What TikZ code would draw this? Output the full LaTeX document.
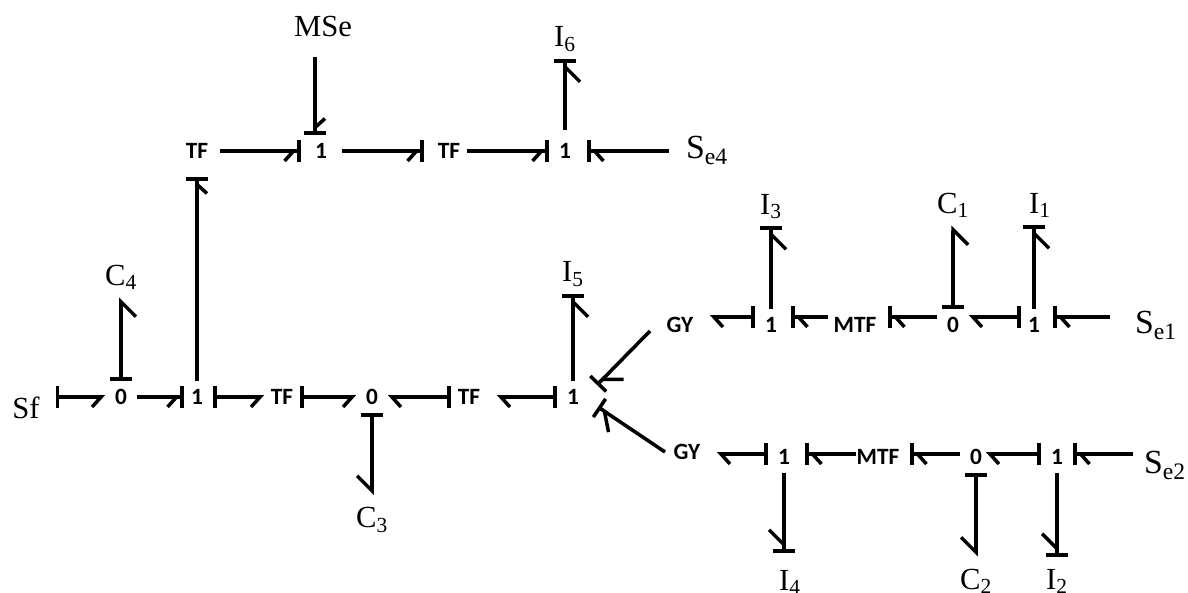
\documentclass[tikz,border=0pt]{standalone}
\usepackage{fontspec}
\setmainfont{Liberation Serif}
\newfontfamily\elemfont{Carlito}
\usetikzlibrary{arrows.meta}
\tikzset{
  hR/.tip={Straight Barb[harpoon,swap,length=.225cm,width=.5cm,sep=0pt]},
  hL/.tip={Straight Barb[harpoon,length=.225cm,width=.5cm,sep=0pt]},
  HR/.tip={Straight Barb[harpoon,swap,length=.375cm,width=.75cm,sep=0pt]},
  HL/.tip={Straight Barb[harpoon,length=.375cm,width=.75cm,sep=0pt]},
  sB/.tip={Bar[width=.55cm,sep=0pt]},
  bond/.style={line width=2.5pt},
  junc/.style={inner sep=0pt,outer sep=0pt,minimum width=.8cm,minimum height=.8cm,font=\elemfont\bfseries\fontsize{16.6}{18}\selectfont},
  tf/.style={junc,minimum width=.9cm},
  mtf/.style={junc,minimum width=1.1cm},
  gy/.style={junc,minimum width=1.5cm},
  lab/.style={inner sep=0pt,outer sep=0pt,minimum height=1cm,font=\fontsize{21.8}{24}\selectfont},
  src/.style={lab,font=\fontsize{24}{26}\selectfont}
}
\begin{document}
\begin{tikzpicture}
\useasboundingbox (0,0) rectangle (29.7,14.8);
% main row
\node[lab,inner xsep=.4cm] (sf) at (.65,4.6125) {Sf};
\node[junc] (z1) at (3.025,4.875) {0};
\node[junc] (o1) at (4.925,4.875) {1};
\node[tf] (t1) at (7.05,4.875) {TF};
\node[junc] (z2) at (9.3,4.875) {0};
\node[tf] (t2) at (11.725,4.875) {TF};
\node[junc] (o2) at (14.325,4.875) {1};
\node[lab] (c4) at (3.025,7.8625) {C\textsubscript{4}};
\node[lab,minimum height=1.25cm] (c3) at (9.3,1.8) {C\textsubscript{3}};
\node[lab] (i5) at (14.325,7.95) {I\textsubscript{5}};
% top row
\node[tf] (t3) at (4.925,11.025) {TF};
\node[junc] (o3) at (8.025,11.025) {1};
\node[tf] (t4) at (11.225,11.025) {TF};
\node[junc] (o4) at (14.125,11.025) {1};
\node[lab,minimum height=1.5cm] (mse) at (8.075,14.125) {MSe};
\node[lab] (i6) at (14.125,13.825) {I\textsubscript{6}};
\node[src,inner xsep=.425cm] (se4) at (17.675,11.0375) {S\textsubscript{e4}};
% upper right row
\node[gy] (g1) at (17,6.675) {GY};
\node[junc] (u1) at (19.275,6.675) {1};
\node[mtf] (m1) at (21.375,6.675) {MTF};
\node[junc] (z3) at (23.825,6.675) {0};
\node[junc] (u2) at (25.85,6.675) {1};
\node[src,inner xsep=.625cm] (se1) at (28.9,6.6625) {S\textsubscript{e1}};
\node[lab] (i3) at (19.275,9.6375) {I\textsubscript{3}};
\node[lab] (c1) at (23.825,9.6625) {C\textsubscript{1}};
\node[lab] (i1) at (26,9.6625) {I\textsubscript{1}};
% lower right row
\node[gy] (g2) at (17.175,3.5) {GY};
\node[junc] (u3) at (19.6,3.375) {1};
\node[mtf] (m2) at (21.95,3.375) {MTF};
\node[junc] (z4) at (24.4,3.375) {0};
\node[junc] (u4) at (26.425,3.375) {1};
\node[src,inner xsep=.275cm] (se2) at (29.125,3.1625) {S\textsubscript{e2}};
\node[lab,minimum height=1.5cm] (i4) at (19.75,.2375) {I\textsubscript{4}};
\node[lab,minimum height=1.25cm] (c2) at (24.4,.2625) {C\textsubscript{2}};
\node[lab,minimum height=1.25cm] (i2) at (26.425,.2625) {I\textsubscript{2}};
% bonds, main row
\draw[bond,{sB[]}-{hR[]}] (sf.east |- z1.west) -- (z1.west);
\draw[bond,-{hR[]sB[]},shorten >=-.075cm] (z1.east) -- (o1.west);
\draw[bond,{sB[]}-{hR[]}] (o1.east) -- (t1.west);
\draw[bond,{sB[]}-{hR[]}] (t1.east) -- (z2.west);
\draw[bond,{sB[]}-{hL[]}] (t2.west) -- (z2.east);
\draw[bond,{sB[]}-{hL[]},shorten >=.25cm] (o2.west) -- (t2.east);
\draw[bond,{sB[]}-{HR[]}] (z1.north) -- (c4.south);
\draw[bond,{sB[]}-{HR[]}] (z2.south) -- (c3.north);
\draw[bond,-{HR[]sB[]}] (o2.north) -- (i5.south);
\draw[bond,-{hR[]sB[]},shorten >=.25cm] (o1.north) -- (t3.south);
% bonds, top row
\draw[bond,-{hR[]sB[]},shorten <=.125cm,shorten >=.1cm] (t3.east) -- (o3.west);
\draw[bond,-{hR[]sB[]},shorten <=.125cm,shorten >=.175cm] (o3.east) -- (t4.west);
\draw[bond,-{hR[]sB[]}] (t4.east) -- (o4.west);
\draw[bond,-{hL[]sB[]},shorten >=.15cm] (se4.west |- o4.east) -- (o4.east);
\draw[bond,-{hL[]sB[]}] ([xshift=-.2cm]mse.south) -- ([xshift=-.15cm]o3.north);
\draw[bond,-{HR[]sB[]},shorten <=.125cm] (o4.north) -- (i6.south);
% bonds, upper right row
\begin{scope}[transform canvas={yshift=.2cm}]
\draw[bond,{sB[]}-{hL[]}] (u1.west) -- (g1.east);
\draw[bond,-{hL[]sB[]},shorten <=.125cm,shorten >=.1cm] (m1.west) -- (u1.east);
\draw[bond,-{hL[]sB[]},shorten >=.275cm] (z3.west) -- (m1.east);
\draw[bond,{sB[]}-{hL[]},shorten <=-.075cm] (u2.west) -- (z3.east);
\draw[bond,-{hL[]sB[]},shorten >=.075cm] (se1.west |- u2.east) -- (u2.east);
\end{scope}
\draw[bond,-{HR[]sB[]}] (u1.north) -- (i3.south);
\draw[bond,{sB[]}-{HR[]}] (z3.north) -- (c1.south);
\draw[bond,-{HR[]sB[]}] (u2.north) -- (u2.north |- i1.south);
% bonds, lower right row
\begin{scope}[transform canvas={yshift=.075cm}]
\draw[bond,{sB[]}-{hL[]}] (u3.west) -- (u3.west -| g2.east);
\draw[bond,-{hL[]sB[]},shorten >=.125cm] (m2.west) -- (u3.east);
\draw[bond,-{hL[]sB[]},shorten >=.25cm] (z4.west) -- (m2.east);
\draw[bond,{sB[]}-{hL[]},shorten >=-.15cm] (u4.west) -- (z4.east);
\draw[bond,-{hL[]sB[]}] (se2.west |- u4.east) -- (u4.east);
\end{scope}
\draw[bond,-{HR[]sB[]}] (u3.south) -- (u3.south |- i4.north);
\draw[bond,{sB[]}-{HR[]}] (z4.south) -- (c2.north);
\draw[bond,-{HR[]sB[]}] (u4.south) -- (i2.north);
% bonds into the third junction
\draw[bond,-{HL[]sB[]}] ([yshift=-.15cm]g1.west) -- ([shift={(.2,.3)}]o2.east);
\draw[bond,-{HL[]sB[]}] ([xshift=.2cm]g2.west) -- ([shift={(.225,-.25)}]o2.east);
\end{tikzpicture}
\end{document}
